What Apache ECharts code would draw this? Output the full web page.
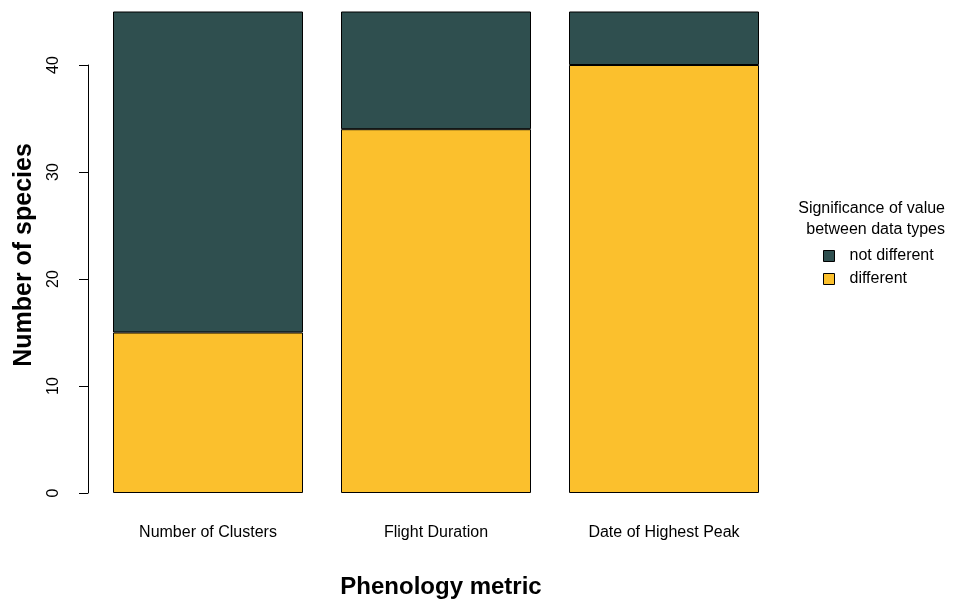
<!DOCTYPE html>
<html>
<head>
<meta charset="utf-8">
<script src="https://cdn.jsdelivr.net/npm/echarts@6/dist/echarts.min.js"></script>
<style>html,body{margin:0;padding:0;background:#fff;}#c{width:955px;height:603px;}</style>
</head>
<body>
<div id="c"></div>
<script>
const categories = ['Number of Clusters', 'Flight Duration', 'Date of Highest Peak'];
const differentValues = [15, 34, 40];
const notDifferentValues = [30, 11, 5];
const yTicks = [0, 10, 20, 30, 40];
const seriesNames = ['different', 'not different'];
const legendTitle = 'Significance of value\nbetween data types';
const xTitle = 'Phenology metric';
const yTitle = 'Number of species';

const FONT = 'Liberation Sans, Arial, Helvetica, sans-serif';
const chart = echarts.init(document.getElementById('c'), null, {renderer: 'canvas'});
chart.setOption({
  animation: false,
  backgroundColor: '#ffffff',
  textStyle: {fontFamily: FONT},
  grid: {left: 94, right: 177, top: 65, bottom: 110, containLabel: false},
  title: [
    {text: xTitle, left: 436, top: 570, textAlign: 'center',
     textStyle: {fontSize: 24, fontWeight: 'bold', color: '#000', fontFamily: FONT}}
  ],
  graphic: [
    {type: 'text', x: 24, y: 255, rotation: Math.PI / 2,
     style: {text: yTitle, font: 'bold 25px ' + FONT, fill: '#000', textAlign: 'center', textVerticalAlign: 'middle'}},
    {type: 'text', x: 945, y: 198,
     style: {text: legendTitle, font: '16px ' + FONT, fill: '#000', textAlign: 'right', textVerticalAlign: 'top', lineHeight: 21}}
  ],
  legend: {
    orient: 'vertical', left: 823, top: 248, padding: 0,
    data: [seriesNames[1], seriesNames[0]],
    icon: 'rect', itemWidth: 11, itemHeight: 11, itemGap: 7,
    itemStyle: {borderColor: '#000', borderWidth: 1},
    textStyle: {fontSize: 16, color: '#000', padding: [0, 0, 0, 10], fontFamily: FONT},
    selectedMode: false
  },
  xAxis: {
    type: 'category', data: categories,
    axisLine: {show: false}, axisTick: {show: false},
    axisLabel: {color: '#000', fontSize: 16, margin: 32, fontFamily: FONT},
    splitLine: {show: false}
  },
  yAxis: {
    type: 'value', min: yTicks[0], max: yTicks[yTicks.length - 1], interval: 10,
    offset: 6,
    axisLine: {show: true, lineStyle: {color: '#000', width: 1}},
    axisTick: {show: true, length: 9, lineStyle: {color: '#000'}},
    axisLabel: {color: '#000', fontSize: 16, rotate: 90, margin: 26, fontFamily: FONT},
    splitLine: {show: false}
  },
  series: [
    {name: seriesNames[0], type: 'bar', stack: 'a', data: differentValues, barWidth: 190, clip: false,
     itemStyle: {color: '#FBC02D', borderColor: '#000', borderWidth: 1}},
    {name: seriesNames[1], type: 'bar', stack: 'a', data: notDifferentValues, barWidth: 190, clip: false,
     itemStyle: {color: '#2F4F4F', borderColor: '#000', borderWidth: 1}}
  ]
});
</script>
</body>
</html>
